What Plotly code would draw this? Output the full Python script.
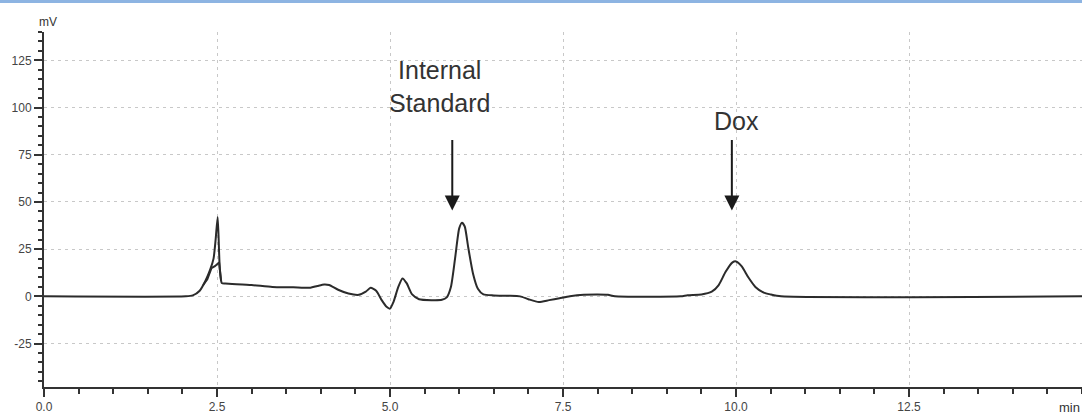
import plotly.graph_objects as go

# Chromatogram trace (time in min, signal in mV)
time_min = [0.0, 2.05, 2.15, 2.25, 2.33, 2.40, 2.45, 2.48, 2.51, 2.54, 2.57, 2.62,
            3.0, 3.3, 3.6, 3.75, 3.85, 3.95, 4.05, 4.12, 4.25, 4.4, 4.55, 4.65, 4.72,
            4.8, 4.88, 4.95, 5.0, 5.05, 5.12, 5.18, 5.24, 5.32, 5.42, 5.6, 5.75, 5.82,
            5.88, 5.94, 6.0, 6.04, 6.08, 6.13, 6.2, 6.27, 6.35, 6.5, 6.7, 6.88, 7.0,
            7.15, 7.3, 7.45, 7.6, 7.8, 8.0, 8.15, 8.25, 9.2, 9.3, 9.5, 9.65, 9.75,
            9.85, 9.95, 10.0, 10.08, 10.18, 10.28, 10.4, 10.5, 10.65, 15.0]
signal_mv = [0, 0, 0.5, 3, 8, 14, 20, 30, 42, 15, 7, 6.8,
             6, 5, 4.8, 4.5, 4.6, 5.5, 6.3, 6, 3.5, 1.5, 0.8, 2.5, 4.5,
             3, -2, -5.5, -6.5, -3, 5, 9.5, 7, 1, -1.5, -2, -1.8, -0.5,
             5, 20, 36, 39, 37, 26, 12, 4, 1, 0.5, 0.3, 0, -1.5,
             -3, -2, -1, 0, 0.8, 1, 0.8, 0, 0, 0.6, 1, 2.5, 6,
             13, 18, 18.5, 16, 10, 5, 2, 1, 0, 0]

# Second overlaid trace visible around the first peak
shoulder_time = [2.30, 2.36, 2.42, 2.47, 2.53, 2.56]
shoulder_mv = [6, 9, 15, 16, 18, 8]

x_tick_vals = [0, 2.5, 5.0, 7.5, 10.0, 12.5]
x_tick_text = ["0.0", "2.5", "5.0", "7.5", "10.0", "12.5"]
y_tick_vals = [-25, 0, 25, 50, 75, 100, 125]
y_tick_text = ["-25", "0", "25", "50", "75", "100", "125"]

peak_labels = ["Internal<br>Standard", "Dox"]
peak_arrow_x = [5.9, 9.94]
peak_label_x = [5.72, 10.0]
peak_label_y = [111, 93]

line_color = "#2b2b2b"
font_family = "Arial, Liberation Sans, sans-serif"

W, H = 1082, 415
ML, MR, MT, MB = 44, 0, 32, 28
PW, PH = W - ML - MR, H - MT - MB

fig = go.Figure()
fig.add_trace(go.Scatter(x=time_min, y=signal_mv, mode="lines",
                         line=dict(color=line_color, width=2, shape="spline", smoothing=0.6),
                         hoverinfo="skip", showlegend=False))
fig.add_trace(go.Scatter(x=shoulder_time, y=shoulder_mv, mode="lines",
                         line=dict(color=line_color, width=2),
                         hoverinfo="skip", showlegend=False))

axis_common = dict(showline=True, linecolor="#333333", linewidth=2,
                   ticks="outside", ticklen=8, tickwidth=2, tickcolor="#333333",
                   showgrid=True, gridcolor="#c8c8c8", gridwidth=1, griddash="3px,4px",
                   zeroline=False, tickfont=dict(family=font_family, size=12, color="#444444"))

fig.update_layout(
    width=W, height=H,
    margin=dict(l=ML, r=MR, t=MT, b=MB, autoexpand=False),
    paper_bgcolor="white", plot_bgcolor="white",
    xaxis=dict(range=[0, 15], tickvals=x_tick_vals, ticktext=x_tick_text,
               minor=dict(dtick=0.5, tick0=0, ticks="outside", ticklen=5, tickwidth=2,
                          tickcolor="#333333", showgrid=False),
               **axis_common),
    yaxis=dict(range=[-48, 140], tickvals=y_tick_vals, ticktext=y_tick_text,
               minor=dict(dtick=5, tick0=0, ticks="outside", ticklen=4, tickwidth=1.5,
                          tickcolor="#333333", showgrid=False),
               **axis_common),
)

for lbl, ax_x, lx, ly in zip(peak_labels, peak_arrow_x, peak_label_x, peak_label_y):
    fig.add_annotation(x=lx, y=ly, text=lbl, showarrow=False, xref="x", yref="y",
                       font=dict(family=font_family, size=25, color="#333333"),
                       align="center")
    fig.add_annotation(x=ax_x, y=45.5, xref="x", yref="y", ax=0, ay=-72,
                       text="", showarrow=True, arrowhead=2, arrowsize=1.5,
                       arrowwidth=2, arrowcolor="#1a1a1a", standoff=0)

fig.add_annotation(x=(48 - ML) / PW, y=1 + (MT - 22) / PH, xref="paper", yref="paper",
                   text="mV", showarrow=False, xanchor="center", yanchor="middle",
                   font=dict(family=font_family, size=12, color="#333333"))
fig.add_annotation(x=1, y=-(407 - (H - MB)) / PH, xref="paper", yref="paper", text="min",
                   showarrow=False, xanchor="right", yanchor="middle",
                   font=dict(family=font_family, size=13, color="#333333"))

# light blue frame line at the top of the image
fig.add_shape(type="rect", xref="paper", yref="paper",
              x0=-ML / PW, x1=1.01, y0=1 + (MT - 3) / PH, y1=1 + (MT + 1) / PH,
              fillcolor="#8db4e2", line=dict(width=0), layer="above")

fig.write_html("out.html", config={"displayModeBar": False},
               post_script="document.body.style.margin='0';document.body.style.overflow='hidden';")
